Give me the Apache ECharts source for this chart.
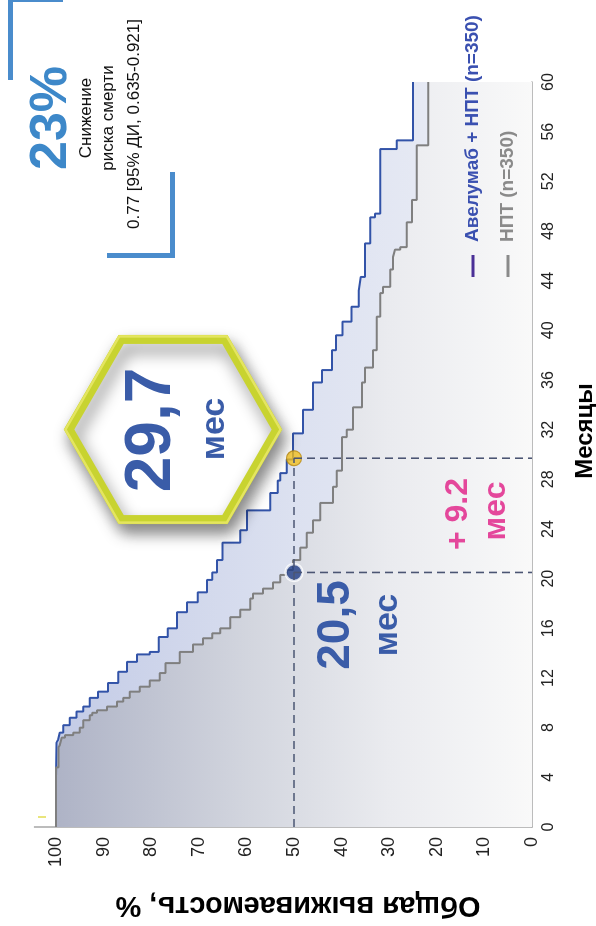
<!DOCTYPE html>
<html><head><meta charset="utf-8">
<script src="https://cdn.jsdelivr.net/npm/echarts@6/dist/echarts.min.js"></script>
<style>
html,body{margin:0;padding:0;width:596px;height:926px;overflow:hidden;background:#fff;}
#chart{position:absolute;left:0;top:0;width:926px;height:596px;transform-origin:0 0;transform:translateY(926px) rotate(-90deg);}
</style></head><body><div id="chart"></div>
<script>
// ---- data ----
const monthTicks = [0,4,8,12,16,20,24,28,32,36,40,44,48,52,56,60];
const survivalTicks = [0,10,20,30,40,50,60,70,80,90,100];

const avelMonths = [0,4.0,6.8,7.0,7.6,8.2,8.8,9.3,9.7,10.4,10.9,11.6,12.5,13.3,13.9,14.1,15.3,16.0,17.3,18.1,18.9,19.9,20.5,21.5,22.9,23.9,25.5,26.9,27.9,28.5,29.6,31.7,33.6,35.8,36.8,38.4,39.6,40.7,41.9,43.2,44.3,47.0,49.1,49.4,54.6,55.3,60];
const avelSurv   = [100,99.9,99.6,99.2,98.5,97.1,95.7,94.3,92.9,91.2,89.1,86.9,85.1,83.0,80.3,78.4,76.5,74.6,72.5,70.2,68.3,67.2,66.2,65.0,61.3,59.9,55.0,53.4,52.9,51.5,50.2,48.1,46.0,44.1,42.0,41.2,39.8,37.9,36.4,36.0,35.1,34.0,33.0,31.9,28.4,25.0,25.0];

const nptMonths = [0,4.8,6.4,6.6,7.2,7.4,7.6,8.0,8.6,9.0,9.2,9.4,9.7,10.1,10.4,10.9,11.3,11.8,12.4,13.2,14.1,14.7,15.2,15.6,16.0,16.9,17.5,18.4,18.8,19.2,19.7,20.3,20.7,21.5,22.5,23.7,24.7,26.1,27.4,28.7,31.4,32.0,33.8,35.8,37.0,38.4,41.1,43.0,43.5,44.9,45.9,46.5,46.7,48.7,50.5,54.9,60];
const nptSurv   = [100,99.5,99.2,98.8,98.1,96.4,95.0,94.3,92.9,92.4,91.4,89.3,87.2,85.9,84.5,82.4,80.3,78.2,77.0,74.0,71.2,69.1,67.2,65.5,63.4,61.3,59.2,58.6,56.5,54.4,52.9,51.5,50.2,48.7,47.3,46.0,44.5,41.8,41.0,39.9,38.9,37.6,35.7,35.1,33.4,32.6,31.9,31.3,29.8,29.2,28.8,27.7,26.3,25.2,24.2,21.8,21.8];

const medianAvel = 29.7;   // мес
const medianNpt = 20.5;    // мес
const medianLevel = 50;    // %

const FONT = 'Liberation Sans, Arial, Helvetica, sans-serif';
const zip = (a, b) => a.map((v, i) => [v, b[i]]);

const chart = echarts.init(document.getElementById('chart'), null, {renderer: 'canvas'});

// decorative hexagon (pointy top/bottom in the unrotated frame)
function hexPts(cx, cy, r){const p=[];for(let i=0;i<6;i++){const a=i*Math.PI/3;p.push([cx+r*Math.sin(a),cy-r*Math.cos(a)]);}return p;}

const txt = (x, y, text, size, color, weight, extra) => Object.assign({
  type: 'text', x: x, y: y, z: 20,
  style: {text: text, fontSize: size, fontWeight: weight || 'normal', fontFamily: FONT,
          fill: color, align: 'center', verticalAlign: 'middle'}
}, extra || {});

const dash = (data) => ({
  type: 'line', data: data, symbol: 'none', z: 6, silent: true,
  lineStyle: {type: [8, 5], color: '#4b5573', width: 1.6}
});

chart.setOption({
  animation: false,
  grid: {left: 99, right: 82, top: 34.6, bottom: 64},
  xAxis: {
    type: 'value', min: 0, max: 60, interval: 4,
    axisLine: {show: true, onZero: false, lineStyle: {color: '#a6a6a6', width: 1.5}},
    axisTick: {show: false}, splitLine: {show: false},
    axisLabel: {fontSize: 16, color: '#222', margin: 9, fontFamily: FONT,
      formatter: v => monthTicks.includes(v) ? String(v) : ''}
  },
  yAxis: {
    type: 'value', min: 0, max: 104.5, interval: 10,
    axisLine: {show: true, onZero: false, lineStyle: {color: '#a6a6a6', width: 1.5}},
    axisTick: {show: false}, splitLine: {show: false},
    axisLabel: {fontSize: 18, color: '#222', margin: 10, fontFamily: FONT, showMaxLabel: false,
      formatter: v => survivalTicks.includes(v) ? String(v) : ''}
  },
  legend: {
    orient: 'vertical', left: 644, top: 458, itemWidth: 22, itemHeight: 3, itemGap: 15,
    icon: 'rect', selectedMode: false,
    textStyle: {fontSize: 19, fontWeight: 'bold', fontFamily: FONT, lineHeight: 20, padding: [0, 0, 0, 8]},
    data: [
      {name: 'Авелумаб + НПТ (n=350)', itemStyle: {color: '#4a2f96'}, textStyle: {color: '#3a50b0'}},
      {name: 'НПТ (n=350)', itemStyle: {color: '#8a8a8a'}, textStyle: {color: '#8a8a8a'}}
    ]
  },
  series: [
    {type: 'line', name: 'avelArea', step: 'end', data: zip(avelMonths, avelSurv), symbol: 'none', z: 1, silent: true,
     lineStyle: {width: 0},
     areaStyle: {opacity: 1, color: new echarts.graphic.LinearGradient(0, 0, 0, 1, [
       {offset: 0, color: '#c3cbe6'}, {offset: 0.5, color: '#dce1f0'}, {offset: 1, color: '#eef0f7'}])}},
    {type: 'line', name: 'nptArea', step: 'end', data: zip(nptMonths, nptSurv), symbol: 'none', z: 2, silent: true,
     lineStyle: {width: 0},
     areaStyle: {opacity: 1, color: new echarts.graphic.LinearGradient(0, 0, 0, 1, [
       {offset: 0, color: '#aeb3c6'}, {offset: 0.4, color: '#d2d5de'}, {offset: 0.7, color: '#eaebef'}, {offset: 1, color: '#f9f9f9'}])}},
    {type: 'line', name: 'Авелумаб + НПТ (n=350)', step: 'end', data: zip(avelMonths, avelSurv), symbol: 'none', z: 3,
     lineStyle: {color: '#3253a8', width: 2}, itemStyle: {color: '#4a2f96'}},
    {type: 'line', name: 'НПТ (n=350)', step: 'end', data: zip(nptMonths, nptSurv), symbol: 'none', z: 3,
     lineStyle: {color: '#7f7f7f', width: 2}, itemStyle: {color: '#8a8a8a'}},
    {type: 'scatter', data: [[medianAvel, medianLevel]], symbolSize: 15, z: 5, silent: true,
     itemStyle: {color: '#f3c11f', borderColor: '#b98a10', borderWidth: 1.2}},
    {type: 'scatter', data: [[medianNpt, medianLevel]], symbolSize: 17, z: 5, silent: true,
     itemStyle: {color: '#1f3c84', borderColor: '#ffffff', borderWidth: 2.5}},
    dash([[0, medianLevel], [medianAvel, medianLevel]]),
    dash([[medianNpt, medianLevel], [medianNpt, 0]]),
    dash([[medianAvel, medianLevel], [medianAvel, 0]])
  ],
  graphic: [
    {type: 'polyline', z: 20, shape: {points: [[926.5, 63], [926.5, 10.5], [846, 10.5]]},
     style: {stroke: '#4a8ccc', lineWidth: 5, fill: null}},
    {type: 'polyline', z: 20, shape: {points: [[754, 172.5], [670.5, 172.5], [670.5, 107]]},
     style: {stroke: '#4a8ccc', lineWidth: 5, fill: null}},
    {type: 'line', z: 20, shape: {x1: 109, y1: 38, x2: 109, y2: 46}, style: {stroke: '#e2dc50', lineWidth: 1.5}},
    txt(808, 52, '23%', 52, '#3d88c9', 'bold'),
    txt(808, 86, 'Снижение', 17, '#111'),
    txt(808, 108, 'риска смерти', 17, '#111'),
    txt(802, 134, '0.77 [95% ДИ, 0.635-0.921]', 17, '#111'),
    {type: 'polygon', z: 18, shape: {points: hexPts(496.5, 173, 104)},
     style: {fill: '#ffffff', stroke: '#c8d330', lineWidth: 9, lineJoin: 'miter',
             shadowBlur: 16, shadowColor: 'rgba(0,0,0,0.45)', shadowOffsetX: -9, shadowOffsetY: 4}},
    {type: 'polygon', z: 19, shape: {points: hexPts(496.5, 173, 107.5)},
     style: {fill: null, stroke: '#e4e560', lineWidth: 2.5, lineJoin: 'miter'}},
    txt(496, 152, '29,7', 64, '#3a5ca8', 'bold'),
    txt(497, 215, 'мес', 34, '#3a5ca8', 'bold'),
    txt(301, 336, '20,5', 46, '#3a5ca8', 'bold'),
    txt(301, 388, 'мес', 34, '#3a5ca8', 'bold'),
    txt(412, 458, '+ 9.2', 32, '#e4479b', 'bold'),
    txt(415, 496, 'мес', 32, '#e4479b', 'bold'),
    txt(495, 585, 'Месяцы', 24, '#000', 'bold'),
    txt(21, 298, 'Общая выживаемость, %', 29, '#000', 'bold', {rotation: Math.PI / 2})
  ]
});
</script></body></html>
